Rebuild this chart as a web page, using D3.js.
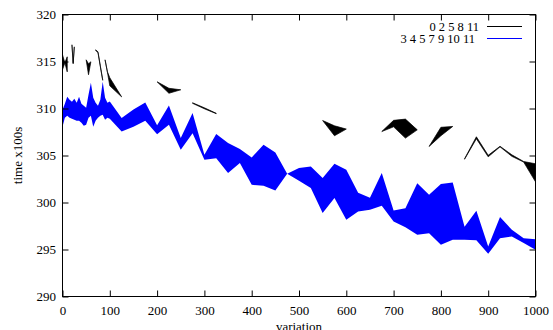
<!DOCTYPE html>
<html>
<head>
<meta charset="utf-8">
<script src="https://cdn.jsdelivr.net/npm/d3@7"></script>
<style>
  html, body { margin: 0; padding: 0; background: #fff; }
  svg { display: block; }
  text { font-family: 'Liberation Serif', 'Times New Roman', serif; font-size: 13px; fill: #000; }
</style>
</head>
<body>
<svg id="chart" width="553" height="330"></svg>
<script>
// ---- data ----
const xTicks = [0, 100, 200, 300, 400, 500, 600, 700, 800, 900, 1000];
const yTicks = [290, 295, 300, 305, 310, 315, 320];
const xLabel = "variation";
const yLabel = "time x100s";

const blackName = "0 2 5 8 11";
const blueName = "3 4 5 7 9 10 11";

// series "0 2 5 8 11": upper / lower curve (null = missing)
const blackX  = [0, 5, 10, 15, 20, 22.5, 25, 30, 50, 55, 60, 65, 70, 75, 80, 85, 87, 90, 95, 100, 125, 150,
                 200, 225, 250, 262, 275, 300, 325, 350, 550, 575, 600, 625, 675, 700, 725, 750, 762,
                 775, 800, 825, 837, 850, 875, 900, 925, 950, 975, 1000];
const blackHi = [315.71, 314.86, 315.5, null, 316.78, 314.86, 316.56, null, 315.18, 314.76, 314.97, null,
                 316.24, 316.03, 314.54, 313.05, null, 315.18, 313.9, 313.27, 311.24, null,
                 312.84, 312.15, 311.99, null, 310.61, 310.07, 309.49, null, 308.72, 308.16, 307.81, null,
                 307.55, 308.74, 308.87, 307.73, null, 305.96, 308.0, 308.09, null,
                 304.65, 306.99, 305.02, 305.98, 305.07, 304.36, 304.12];
const blackLo = [314.12, 314.86, 313.9, null, 316.78, 314.75, 316.56, null, 315.18, 313.59, 314.97, null,
                 316.18, 315.95, 314.45, 313.0, null, 315.18, 313.85, 312.41, 311.24, null,
                 312.84, 311.62, 311.99, null, 310.55, 309.97, 309.45, null, 308.72, 307.1, 307.81, null,
                 307.55, 308.05, 306.85, 307.73, null, 305.96, 307.1, 308.09, null,
                 304.6, 306.78, 304.86, 305.92, 304.91, 304.3, 302.2];

// series "3 4 5 7 9 10 11": upper / lower curve
const blueX  = [0, 5, 10, 15, 20, 25, 30, 35, 40, 45, 50, 55, 60, 65, 70, 75, 80, 85, 90, 95,
                100, 125, 150, 175, 200, 225, 250, 275, 300, 325, 350, 375, 400, 425, 450, 475,
                500, 525, 550, 575, 600, 625, 650, 675, 700, 725, 750, 775, 800, 825, 850, 875,
                900, 925, 950, 975, 1000];
const blueHi = [309.86, 310.5, 311.24, 310.93, 310.71, 311.03, 310.61, 311.24, 310.5, 310.29, 310.07, 311.46,
                312.73, 311.14, 310.61, 310.29, 310.93, 312.84, 311.14, 310.61,
                310.74, 308.98, 309.9, 310.64, 308.21, 310.32, 306.85, 309.51, 305.07, 307.28, 306.32,
                305.68, 304.79, 306.14, 305.32, 303.05,
                303.66, 303.83, 302.6, 304.12, 303.48, 301.03, 300.5, 303.13, 299.15, 299.4, 302.06,
                300.82, 301.96, 302.13, 297.41, 299.12, 295.32, 298.45, 297.1, 296.21, 296.1];
const blueLo = [308.05, 309.01, 309.22, 309.01, 308.9, 308.8, 308.69, 308.69, 308.48, 308.16, 308.27, 309.01,
                309.22, 308.05, 308.69, 309.01, 309.22, 309.33, 308.8, 309.01,
                308.9, 307.55, 308.05, 308.69, 307.27, 308.27, 305.61, 307.38, 304.54, 304.72, 303.13,
                304.19, 301.88, 301.78, 301.28, 303.05,
                302.31, 301.53, 298.87, 300.47, 298.16, 299.04, 299.22, 299.65, 297.98, 297.38, 296.56,
                296.74, 295.5, 296.03, 296.03, 295.98, 294.54, 296.21, 296.38, 295.68, 294.97];

// ---- layout ----
const L = 62.5, R = 535.5, T = 14.5, B = 296.5;
const svg = d3.select("#chart");

const x = d3.scaleLinear().domain([0, 1000]).range([L, R]);
const y = d3.scaleLinear().domain([290, 320]).range([B, T]);

const blackData = blackX.map((v, i) => ({x: v, hi: blackHi[i], lo: blackLo[i]}));
const blueData = blueX.map((v, i) => ({x: v, hi: blueHi[i], lo: blueLo[i]}));

const area = d3.area()
  .defined(d => d.hi != null && d.lo != null)
  .x(d => x(d.x))
  .y0(d => y(d.lo))
  .y1(d => y(d.hi));

svg.append("path").datum(blackData)
  .attr("d", area)
  .attr("fill", "#000")
  .attr("stroke", "#000")
  .attr("stroke-width", 0.7)
  .attr("stroke-linejoin", "miter");

svg.append("path").datum(blueData)
  .attr("d", area)
  .attr("fill", "#0000ff");

// ---- axes ----
const axB = d3.axisBottom(x).tickValues(xTicks).tickSizeInner(-6).tickSizeOuter(0).tickPadding(9)
  .tickFormat(d3.format("d"));
const axT = d3.axisTop(x).tickValues(xTicks).tickSizeInner(-6).tickSizeOuter(0).tickFormat("");
const axL = d3.axisLeft(y).tickValues(yTicks).tickSizeInner(-6).tickSizeOuter(0).tickPadding(6.5)
  .tickFormat(d3.format("d"));
const axR = d3.axisRight(y).tickValues(yTicks).tickSizeInner(-6).tickSizeOuter(0).tickFormat("");

function style(g) {
  g.select(".domain").remove();
  g.selectAll("line").attr("stroke", "#000").attr("stroke-width", 1);
  g.selectAll("text").attr("font-family", "'Liberation Serif', serif").attr("font-size", 13).attr("fill", "#000");
}
svg.append("g").attr("transform", `translate(0,${B})`).call(axB).call(style);
svg.append("g").attr("transform", `translate(0,${T})`).call(axT).call(style);
svg.append("g").attr("transform", `translate(${L},0)`).call(axL).call(style);
svg.append("g").attr("transform", `translate(${R},0)`).call(axR).call(style);

// frame
svg.append("rect").attr("x", L).attr("y", T).attr("width", R - L).attr("height", B - T)
  .attr("fill", "none").attr("stroke", "#000").attr("stroke-width", 1);

// axis titles
svg.append("text").attr("x", (L + R) / 2).attr("y", 331).attr("text-anchor", "middle").text(xLabel);
svg.append("text").attr("transform", `translate(22,${(T + B) / 2}) rotate(-90)`)
  .attr("text-anchor", "middle").text(yLabel);

// legend
const legend = [
  {name: blackName, color: "#000", tx: 479, ty: 30.5, ly: 26.5},
  {name: blueName, color: "#0000ff", tx: 475, ty: 43, ly: 38.5}
];
const lg = svg.append("g");
legend.forEach(d => {
  lg.append("text").attr("x", d.tx).attr("y", d.ty).attr("text-anchor", "end")
    .style("font-size", "12.5px").text(d.name);
  lg.append("line").attr("x1", 487).attr("x2", 522).attr("y1", d.ly).attr("y2", d.ly)
    .attr("stroke", d.color).attr("stroke-width", 1);
});
</script>
</body>
</html>
